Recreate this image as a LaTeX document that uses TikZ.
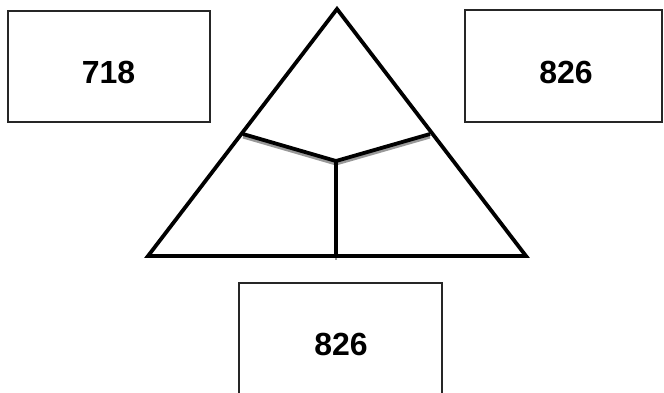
\documentclass[tikz,border=0pt]{standalone}
\usepackage{fontspec}
\setmainfont{Liberation Sans}
\begin{document}
\begin{tikzpicture}[x=1pt,y=-1pt,
  boxline/.style={line width=1.3pt,black!85},
  numtext/.style={font=\fontsize{32}{38}\selectfont\bfseries,inner sep=0pt},
  thick tri/.style={line width=3.8pt,line join=miter},
  shade/.style={line width=3pt,black!40}]
\useasboundingbox (0,0) rectangle (664,392);
% boxes
\draw[boxline] (8,11) rectangle (210,122);
\draw[boxline] (465,10) rectangle (662,122);
\draw[boxline] (239,283) rectangle (442,400);
\node[numtext] (a) at (108.5,72) {718};
\node[numtext] (b) at (566,72) {826};
\node[numtext] (c) at (341,344) {826};
% triangle
\coordinate (top) at (337,9);
\coordinate (bl) at (148,256);
\coordinate (br) at (526,256);
\coordinate (lp) at (243,134);
\coordinate (rp) at (430,134);
\coordinate (ctr) at (336,161);
\coordinate (bm) at (336,256);
\draw[shade] ([yshift=-3pt]lp) -- ([yshift=-3pt]ctr) -- ([yshift=-3pt]rp);
\draw[shade,line width=2pt] ([yshift=-1pt]bm) -- ([yshift=-4pt]bm);
\draw[thick tri] (top) -- (bl) -- (br) -- cycle;
\draw[thick tri] (lp) -- (ctr) -- (rp);
\draw[thick tri] (ctr) -- (bm);
\end{tikzpicture}
\end{document}
